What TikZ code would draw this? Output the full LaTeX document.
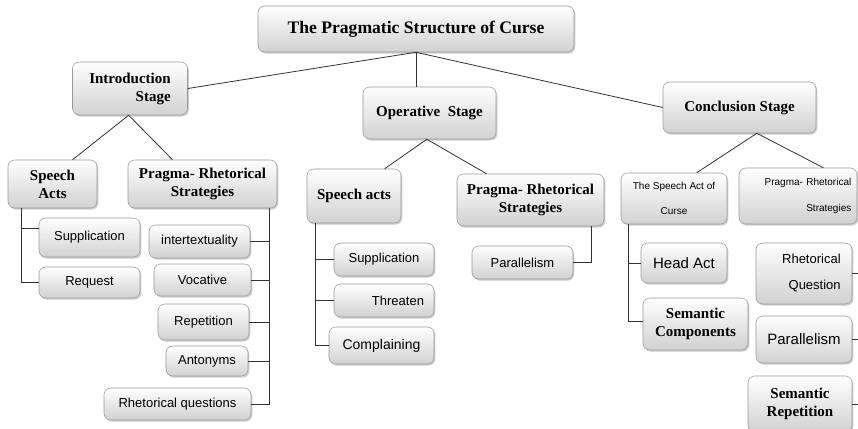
\documentclass[tikz,border=0pt]{standalone}
\usepackage{fontspec}
\setmainfont{Liberation Serif}
\newfontfamily\arialfont{Liberation Sans}
\usetikzlibrary{shadows}
\tikzset{
  pbox/.style 2 args={draw=black!40, rounded corners=5pt, top color=white, bottom color=black!18,
    drop shadow={shadow xshift=1pt, shadow yshift=-1.2pt, opacity=0.4},
    minimum width=#1*0.75pt, minimum height=#2*0.75pt, inner sep=2pt, align=center},
  headtext/.style={font=\fontsize{11.25}{13.5}\selectfont\bfseries},
  itemtext/.style={font=\arialfont\fontsize{9.75}{12}\selectfont},
  link/.style={draw=black!80, line width=0.6pt}
}
\begin{document}
\begin{tikzpicture}[x=0.75pt,y=0.75pt,yscale=-1,xscale=1]
            \useasboundingbox (0,0) rectangle (858,429);
            \clip (0,0) rectangle (858,429);
            % top
            \node[pbox={316}{46}, font=\fontsize{13.2}{15}\selectfont\bfseries] (title) at (416,29) {The Pragmatic Structure of Curse};
            % introduction stage
            \node[pbox={115}{53}, headtext, align=right] (intro) at (130,88.5) {Introduction\\Stage};
            \node[pbox={89}{48}, headtext] (sa1) at (52.5,184) {Speech\\Acts};
            \node[pbox={149}{48}, headtext] (pr1) at (202.5,184) {Pragma- Rhetorical\\Strategies};
            \node[pbox={101}{39}, itemtext] (supp1) at (89.5,237.5) {Supplication};
            \node[pbox={101}{31}, itemtext] (req1) at (89.5,282.5) {Request};
            \node[pbox={101}{33}, itemtext] (intx) at (199.5,241.5) {intertextuality};
            \node[pbox={97}{32}, itemtext] (voc) at (202.5,280) {Vocative};
            \node[pbox={91}{36}, itemtext] (rep) at (203.5,322) {Repetition};
            \node[pbox={82}{30}, itemtext] (ant) at (207,361) {Antonyms};
            \node[pbox={147}{32}, itemtext] (rq) at (177.5,404) {Rhetorical questions};
            % operative stage
            \node[pbox={133}{52}, headtext] (oper) at (429.5,113) {Operative\ \ Stage};
            \node[pbox={94}{54}, headtext] (sa2) at (354,196) {Speech acts};
            \node[pbox={147}{52}, headtext] (pr2) at (530.5,200) {Pragma- Rhetorical\\Strategies};
            \node[pbox={101}{33}, itemtext] (par2) at (522.5,262.5) {Parallelism};
            \node[pbox={100}{33}, itemtext] (supp2) at (384,259.5) {Supplication};
            \node[pbox={100}{33}, itemtext, text width=60pt, align=right] (thr) at (384,300.5) {Threaten};
            \node[pbox={105}{37}, itemtext, font=\arialfont\fontsize{10.5}{12}\selectfont] (comp) at (381.5,345.5) {Complaining};
            % conclusion stage
            \node[pbox={153}{51}, headtext] (concl) at (739.5,107.5) {Conclusion Stage};
            \node[pbox={106}{51}, itemtext, font=\arialfont\fontsize{7.5}{19}\selectfont] (sac) at (674,198.5) {The Speech Act of\\Curse};
            \node[pbox={118}{56}, itemtext, font=\arialfont\fontsize{7.5}{20}\selectfont, text width=80pt, align=right] (pr3) at (798,196) {Pragma- Rhetorical\\Strategies};
            \node[pbox={86}{40}, itemtext, font=\arialfont\fontsize{11.25}{13}\selectfont] (head) at (684,263) {Head Act};
            \node[pbox={105}{52}, headtext] (semc) at (695.5,324) {Semantic\\Components};
            \node[pbox={96}{61}, itemtext, font=\arialfont\fontsize{9.75}{19.5}\selectfont, text width=55pt, align=right] (rhq) at (804,273.5) {Rhetorical\\Question};
            \node[pbox={96}{47}, itemtext, font=\arialfont\fontsize{11.25}{13}\selectfont] (par3) at (804,339.5) {Parallelism};
            \node[pbox={104}{56}, headtext] (semr) at (800,404) {Semantic\\Repetition};
            % links
            \draw[link] (title.south) -- (intro.east);
            \draw[link] (title.south) -- (title.south |- oper.north);
            \draw[link] (title.south) -- (concl.west);
            \draw[link] ([xshift=-1pt]intro.south) -- ([xshift=15pt]sa1.north);
            \draw[link] ([xshift=-1pt]intro.south) -- ([xshift=-22.5pt]pr1.north);
            \draw[link] ([xshift=-2pt]oper.south) -- ([xshift=23pt]sa2.north);
            \draw[link] ([xshift=-2pt]oper.south) -- ([xshift=-33pt]pr2.north);
            \draw[link] ([xshift=13pt]concl.south) -- ([xshift=17pt]sac.north);
            \draw[link] ([xshift=13pt]concl.south) -- ([xshift=19pt]pr3.north);
            \coordinate (v1) at ([xshift=10.5pt]sa1.south west);
            \draw[link] (v1) |- ([yshift=-7pt]supp1.west);
            \draw[link] (v1) |- (req1.west);
            \coordinate (v2) at ([xshift=-6pt]pr1.south east);
            \draw[link] (v2) |- (rq.east);
            \foreach \n in {intx,voc,rep,ant}
              \draw[link] (\n.east) -- (\n.east -| v2);
            \coordinate (v3) at ([xshift=6.75pt]sa2.south west);
            \draw[link] (v3) |- (comp.west);
            \foreach \n in {supp2,thr}
              \draw[link] (\n.west) -- (\n.west -| v3);
            \draw[link] ([xshift=-9.75pt]pr2.south east) |- (par2.east);
            \coordinate (v4) at ([xshift=6pt]sac.south west);
            \draw[link] (v4) |- ([yshift=-2pt]semc.west);
            \draw[link] (head.west) -- (head.west -| v4);
            \coordinate (v5) at (864,224);
            \draw[link] (v5) |- (semr.east);
            \foreach \n in {rhq,par3}
              \draw[link] (\n.east) -- (\n.east -| v5);
        \end{tikzpicture}
\end{document}
